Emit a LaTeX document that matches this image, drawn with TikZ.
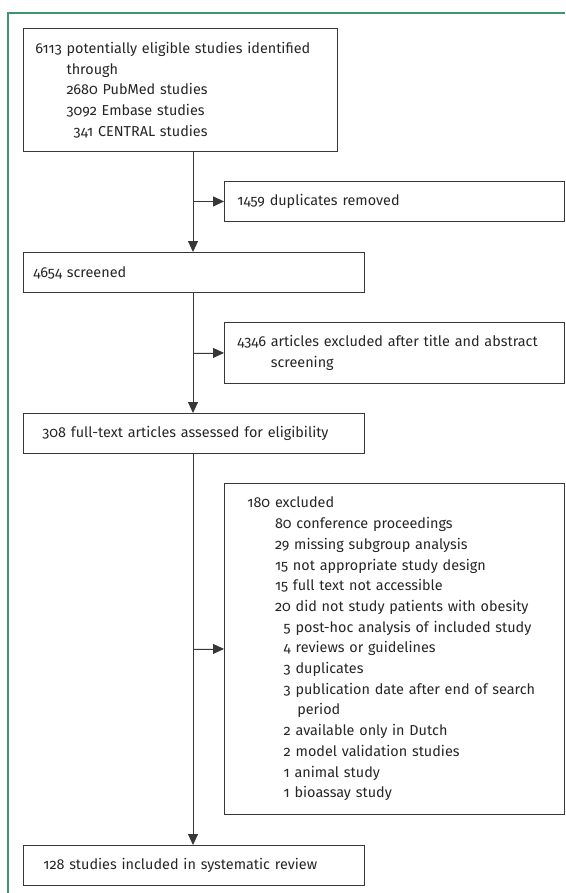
\documentclass[tikz,border=0pt]{standalone}
\usepackage{fontspec}
\newfontfamily\flowfont{Fira Sans}[Numbers=OldStyle]
\usetikzlibrary{arrows.meta,positioning}
\definecolor{framegreen}{RGB}{62,150,112}
\definecolor{boxgrey}{RGB}{55,55,55}

\begin{document}
\begin{tikzpicture}[
  x=1pt,y=-1pt,
  box/.style={draw=boxgrey,line width=0.9pt,anchor=north west,align=left,inner ysep=0pt,
    font=\flowfont\fontsize{14.4}{20.7}\selectfont,text=black!85},
  arr/.style={-{Triangle[length=11pt,width=10pt]},line width=0.9pt,draw=boxgrey,fill=boxgrey},
  frame/.style={draw=framegreen,line width=1.3pt}
]
\useasboundingbox (0,0) rectangle (565,893);
\draw[frame] (565,13) -- (8,13) -- (8,893);
\coordinate (trunk) at (193,0);

\node[box,inner xsep=12pt,text width=290pt,minimum height=123pt] (ident) at (23,28)
  {6113 potentially eligible studies identified\\
   \hphantom{6113\ }through\\
   \hphantom{6113\ }2680 PubMed studies\\
   \hphantom{6113\ }3092 Embase studies\\
   \hphantom{6113\ }\hphantom{2}341 CENTRAL studies};
\node[box,inner xsep=13pt,text width=314pt,minimum height=40pt] (dupl) at (224,181)
  {1459 duplicates removed};
\node[box,inner xsep=10pt,text width=321pt,minimum height=40pt] (scrn) at (23,252)
  {4654 screened};
\node[box,inner xsep=13pt,text width=314pt,minimum height=61pt] (abst) at (224,322)
  {4346 articles excluded after title and abstract\\
   \hphantom{4346\ }screening};
\node[box,inner xsep=19pt,text width=303pt,minimum height=40pt] (full) at (23,413)
  {308 full-text articles assessed for eligibility};
\node[box,inner xsep=23pt,text width=294pt,minimum height=331pt] (excl) at (224,483)
  {180 excluded\\
   \hphantom{180\ }80 conference proceedings\\
   \hphantom{180\ }29 missing subgroup analysis\\
   \hphantom{180\ }15 not appropriate study design\\
   \hphantom{180\ }15 full text not accessible\\
   \hphantom{180\ }20 did not study patients with obesity\\
   \hphantom{180\ 0}5 post-hoc analysis of included study\\
   \hphantom{180\ 0}4 reviews or guidelines\\
   \hphantom{180\ 0}3 duplicates\\
   \hphantom{180\ 0}3 publication date after end of search\\
   \hphantom{180\ 00\ }period\\
   \hphantom{180\ 0}2 available only in Dutch\\
   \hphantom{180\ 0}2 model validation studies\\
   \hphantom{180\ 0}1 animal study\\
   \hphantom{180\ 0}1 bioassay study};
\node[box,inner xsep=20pt,text width=301pt,minimum height=40pt] (incl) at (23,845)
  {128 studies included in systematic review};

\draw[arr] (ident.south -| trunk) -- (scrn.north -| trunk);
\draw[arr] (scrn.south -| trunk) -- (full.north -| trunk);
\draw[arr] (full.south -| trunk) -- (incl.north -| trunk);
\draw[arr] (dupl.west -| trunk) -- (dupl.west);
\draw[arr] (abst.west -| trunk) -- (abst.west);
\draw[arr] (excl.west -| trunk) -- (excl.west);
\end{tikzpicture}
\end{document}
